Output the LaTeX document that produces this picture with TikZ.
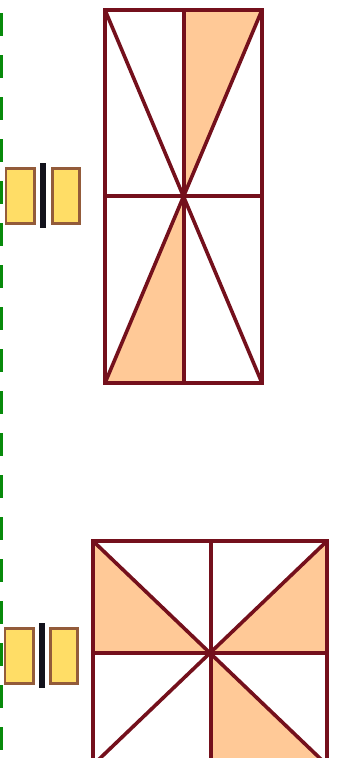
\documentclass[tikz,border=0pt]{standalone}
\usepackage[dvipsnames]{xcolor}
\definecolor{frameRed}{HTML}{74101C}
\definecolor{wedgeOrange}{HTML}{FFC997}
\definecolor{plateYellow}{HTML}{FFDD66}
\definecolor{plateBrown}{HTML}{935B3A}
\definecolor{dashGreen}{HTML}{078A0B}
\definecolor{barDark}{HTML}{12121C}
\tikzset{
	frame/.style={draw=frameRed, line width=0.072cm, line join=miter},
	wedge/.style={fill=wedgeOrange},
	plate/.style={draw=plateBrown, fill=plateYellow, line width=0.06cm},
	bar/.style={draw=barDark, line width=0.11cm}
}

\begin{document}
\begin{tikzpicture}[x=0.02cm, y=-0.02cm]
	\clip (0,0) rectangle (338,758);
	\fill[white] (0,0) rectangle (338,758);
	% Green dashes on the left edge (period 42 px)
	\foreach \n in {0,...,17}{
		\fill[dashGreen] (0, 13+42*\n) rectangle (3, 36+42*\n);
	}
	% Capacitors: left plate x, right plate x, bar x, top y
	\foreach \xa/\xb/\xc/\yt in {6/52/43/168, 5/50/42/628}{
		\draw[plate] (\xa, \yt) rectangle (\xa+28.5, \yt+55);
		\draw[plate] (\xb, \yt) rectangle (\xb+27.5, \yt+55);
		\draw[bar] (\xc, \yt-5) -- (\xc, \yt+60);
	}
	% Tall rectangle
	\fill[wedge] (184,10) -- (262,10) -- (184,196) -- cycle;
	\fill[wedge] (184,383) -- (105,383) -- (184,196) -- cycle;
	\draw[frame] (105,10) rectangle (262,383);
	\draw[frame] (105,196) -- (262,196);
	\draw[frame] (184,10) -- (184,383);
	\draw[frame] (105,10) -- (262,383);
	\draw[frame] (262,10) -- (105,383);
	% Square, cut off by the bottom edge
	\fill[wedge] (93,541) -- (93,653) -- (211,653) -- cycle;
	\fill[wedge] (327,541) -- (327,653) -- (211,653) -- cycle;
	\fill[wedge] (211,653) -- (211,765) -- (327,765) -- cycle;
	\draw[frame] (93,541) rectangle (327,765);
	\draw[frame] (93,653) -- (327,653);
	\draw[frame] (211,541) -- (211,765);
	\draw[frame] (93,541) -- (327,765);
	\draw[frame] (327,541) -- (93,765);
\end{tikzpicture}
\end{document}
